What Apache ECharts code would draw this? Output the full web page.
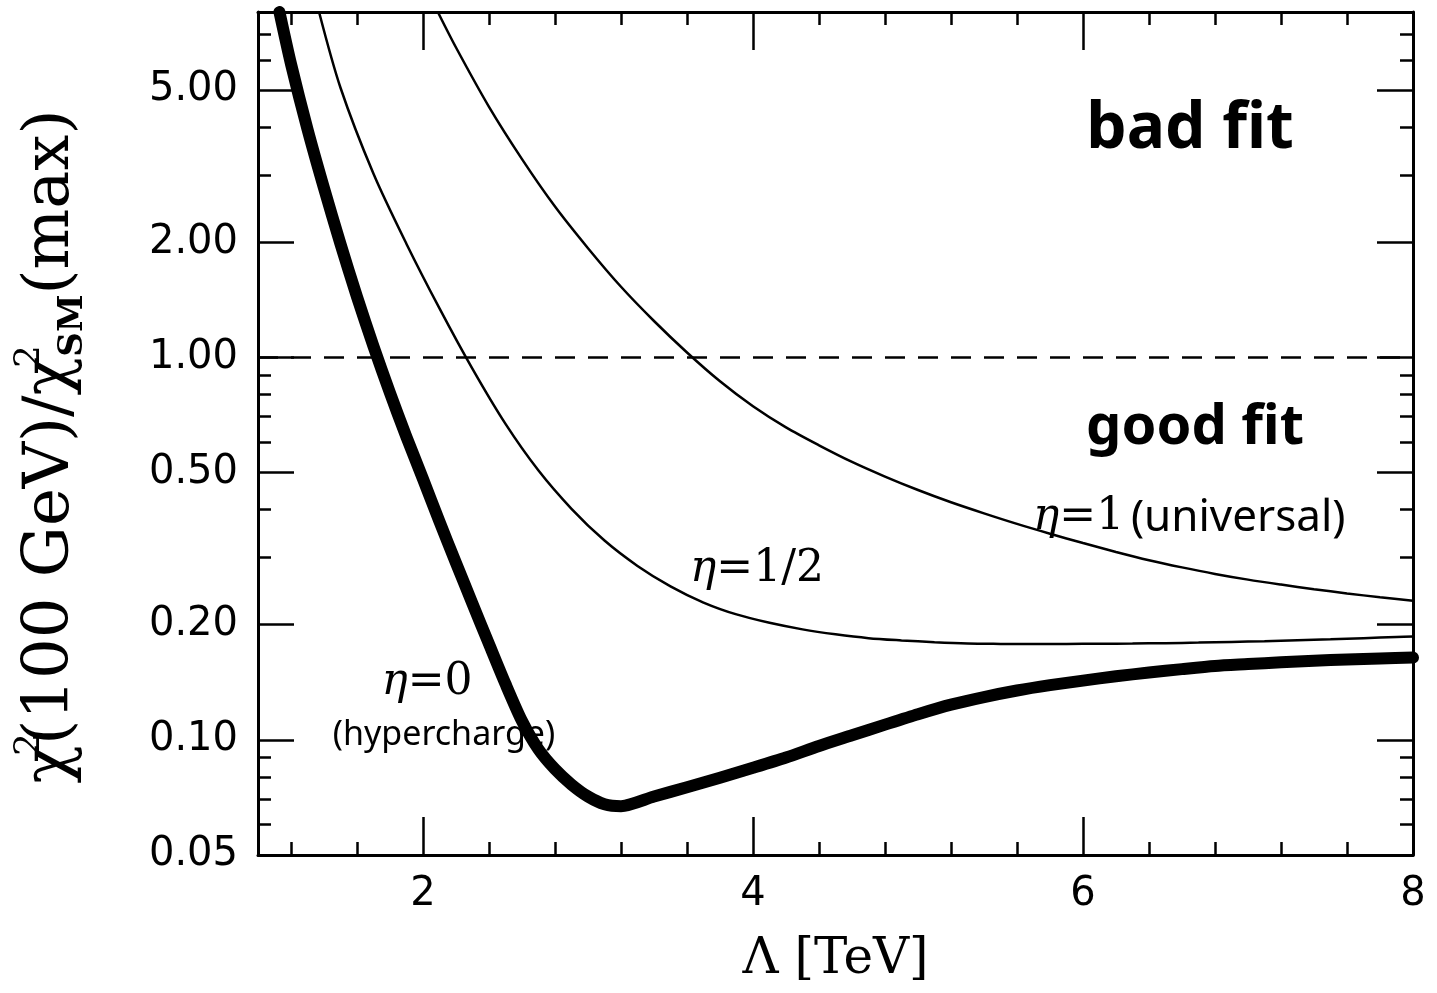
<!DOCTYPE html>
<html>
<head>
<meta charset="utf-8">
<script src="https://cdn.jsdelivr.net/npm/echarts@6/dist/echarts.min.js"></script>
<style>
  html, body { margin: 0; padding: 0; background: #ffffff; }
  #chart { width: 1437px; height: 993px; }
</style>
</head>
<body>
<div id="chart"></div>
<script>
// Λ in TeV and χ²(100 GeV)/χ²_SM(max) for each coupling η
const lambdaEta0 = [1.13, 1.2, 1.3, 1.4, 1.5, 1.6, 1.7, 1.8, 1.9, 2.0, 2.1, 2.2, 2.3, 2.4, 2.5, 2.6, 2.7, 2.8, 2.9, 3.0, 3.1, 3.2,
                    3.4, 3.6, 3.8, 4.0, 4.2, 4.4, 4.6, 4.8, 5.0, 5.2, 5.4, 5.6, 5.8, 6.0, 6.2, 6.4, 6.6, 6.8, 7.0, 7.2, 7.4, 7.6, 7.8, 8.0];
const chiEta0    = [8.0, 5.85, 3.95, 2.77, 1.98, 1.44, 1.069, 0.807, 0.619, 0.481, 0.372, 0.290, 0.227, 0.178, 0.140, 0.112, 0.0944, 0.0838, 0.0764, 0.0711, 0.0679, 0.0671,
                    0.0711, 0.0752, 0.0796, 0.0845, 0.0899, 0.0964, 0.1028, 0.1096, 0.1167, 0.1236, 0.1294, 0.1346, 0.139, 0.1429, 0.1466, 0.150, 0.1531, 0.156, 0.1578, 0.1596, 0.1611, 0.1622, 0.1633, 0.1641];

const lambdaEtaHalf = [1.37, 1.5, 1.7, 1.9, 2.1, 2.3, 2.5, 2.7, 2.9, 3.1, 3.3, 3.5, 3.7, 3.9, 4.1, 4.3, 4.5, 4.7, 4.9, 5.1, 5.3, 5.5, 5.7, 5.9, 6.1, 6.3, 6.5, 6.7, 6.9, 7.1, 7.3, 7.5, 7.7, 7.9, 8.0];
const chiEtaHalf    = [8.0, 5.07, 3.02, 1.98, 1.343, 0.933, 0.670, 0.506, 0.402, 0.332, 0.285, 0.252, 0.2286, 0.2128, 0.2023, 0.1945, 0.1888, 0.1845, 0.182, 0.180, 0.1786, 0.1782, 0.178, 0.1782, 0.1784, 0.1786, 0.179, 0.1796, 0.1803, 0.1811, 0.1822, 0.1832, 0.1845, 0.1858, 0.1862];

const lambdaEta1 = [2.09, 2.2, 2.4, 2.6, 2.8, 3.0, 3.2, 3.4, 3.6, 3.8, 4.0, 4.2, 4.4, 4.6, 4.8, 5.0, 5.2, 5.4, 5.6, 5.8, 6.0, 6.2, 6.4, 6.6, 6.8, 7.0, 7.2, 7.4, 7.6, 7.8, 8.0];
const chiEta1    = [8.0, 6.46, 4.52, 3.30, 2.48, 1.93, 1.53, 1.245, 1.03, 0.866, 0.745, 0.656, 0.589, 0.533, 0.488, 0.450, 0.418, 0.391, 0.367, 0.346, 0.327, 0.310, 0.295, 0.2825, 0.2716, 0.2624, 0.2547, 0.2477, 0.2415, 0.236, 0.2312];

// boundary between good and bad fits
const fitThreshold = 1.0;

// axis ticks
const xMajorTicks = [2, 4, 6, 8];
const xMinorTicks = [1.2, 1.6, 2.4, 2.8, 3.2, 3.6, 4.4, 4.8, 5.2, 5.6, 6.4, 6.8, 7.2, 7.6];
const yMajorTicks = [0.05, 0.10, 0.20, 0.50, 1.00, 2.00, 5.00];
const yMinorTicks = [0.06, 0.07, 0.08, 0.09, 0.3, 0.4, 0.6, 0.7, 0.8, 0.9, 3, 4, 6, 7];

const X_MIN = 1, X_MAX = 8, Y_MIN = 0.05, Y_MAX = 8;
const INK = '#000000';

const pairs = (xs, ys) => xs.map((x, i) => [x, ys[i]]);

function xAxisDef(position, ticks, major, withLine, withLabels) {
  return {
    type: 'value', position: position, min: X_MIN, max: X_MAX,
    axisLine: { show: withLine, onZero: false, lineStyle: { color: INK, width: 3 } },
    axisTick: { show: true, inside: true, customValues: ticks, length: major ? 38 : 13,
                lineStyle: { color: INK, width: 2.5 } },
    axisLabel: withLabels
      ? { show: true, customValues: ticks, margin: 20, color: INK,
          fontFamily: 'DejaVu Sans', fontSize: 40, formatter: v => String(v) }
      : { show: false },
    splitLine: { show: false }
  };
}

function yAxisDef(position, ticks, major, withLine, withLabels) {
  return {
    type: 'log', logBase: 10, position: position, min: Y_MIN, max: Y_MAX,
    axisLine: { show: withLine, onZero: false, lineStyle: { color: INK, width: 3 } },
    axisTick: { show: true, inside: true, customValues: ticks, length: major ? 36 : 13,
                lineStyle: { color: INK, width: 2.5 } },
    axisLabel: withLabels
      ? { show: true, customValues: ticks, margin: 20, color: INK,
          fontFamily: 'DejaVu Sans', fontSize: 40, formatter: v => Number(v).toFixed(2) }
      : { show: false },
    splitLine: { show: false },
    minorTick: { show: false }
  };
}

const xAxes = [
  xAxisDef('bottom', xMajorTicks, true, true, true),
  xAxisDef('bottom', xMinorTicks, false, false, false),
  xAxisDef('top', xMajorTicks, true, true, false),
  xAxisDef('top', xMinorTicks, false, false, false)
];
Object.assign(xAxes[0], {
  name: 'Λ [TeV]', nameLocation: 'middle', nameGap: 80,
  nameTextStyle: { color: INK, fontFamily: 'DejaVu Serif', fontSize: 50 }
});

const yAxes = [
  yAxisDef('left', yMajorTicks, true, true, true),
  yAxisDef('left', yMinorTicks, false, false, false),
  yAxisDef('right', yMajorTicks, true, true, false),
  yAxisDef('right', yMinorTicks, false, false, false)
];
Object.assign(yAxes[0], {
  name: '{t|χ}{sup|2}{t|(100 GeV)/χ}{sup|2}{sub|SM}{t|(max)}',
  nameLocation: 'middle', nameRotate: 90, nameGap: 168,
  nameTextStyle: {
    color: INK,
    padding: [0, 26, 0, 0],
    rich: {
      t:   { fontFamily: 'DejaVu Serif', fontSize: 64, lineHeight: 78, color: INK },
      sup: { fontFamily: 'DejaVu Serif', fontSize: 36, lineHeight: 38, verticalAlign: 'top', width: 0, color: INK },
      sub: { fontFamily: 'DejaVu Serif', fontSize: 34, lineHeight: 38, verticalAlign: 'bottom', fontWeight: 'bold', color: INK }
    }
  }
});

const chart = echarts.init(document.getElementById('chart'), null, { renderer: 'canvas' });

chart.setOption({
  backgroundColor: '#ffffff',
  animation: false,
  grid: { left: 258, right: 24, top: 12, bottom: 138, containLabel: false },
  xAxis: xAxes,
  yAxis: yAxes,
  series: [
    {
      name: 'η=1', type: 'line', xAxisIndex: 0, yAxisIndex: 0,
      data: pairs(lambdaEta1, chiEta1), showSymbol: false, smooth: 0.3, clip: true,
      lineStyle: { color: INK, width: 2.5 }
    },
    {
      name: 'η=1/2', type: 'line', xAxisIndex: 0, yAxisIndex: 0,
      data: pairs(lambdaEtaHalf, chiEtaHalf), showSymbol: false, smooth: 0.3, clip: true,
      lineStyle: { color: INK, width: 2.5 }
    },
    {
      name: 'η=0', type: 'line', xAxisIndex: 0, yAxisIndex: 0,
      data: pairs(lambdaEta0, chiEta0), showSymbol: false, smooth: 0.25, clip: true,
      lineStyle: { color: INK, width: 12, join: 'round', cap: 'round' },
      markLine: {
        silent: true, symbol: ['none', 'none'], label: { show: false },
        lineStyle: { color: INK, width: 2.5, type: [20, 13] },
        data: [{ yAxis: fitThreshold }]
      }
    }
  ],
  graphic: [
    { type: 'text', x: 1190, y: 130, silent: true,
      style: { text: 'bad fit', font: 'bold 64px "Noto Sans"', fill: INK, align: 'center', verticalAlign: 'middle' } },
    { type: 'text', x: 1195, y: 428, silent: true,
      style: { text: 'good fit', font: 'bold 56px "Noto Sans"', fill: INK, align: 'center', verticalAlign: 'middle' } },
    { type: 'text', x: 1033, y: 518, silent: true,
      style: {
        text: '{e|η}{s|=1}  {h|(universal)}', align: 'left', verticalAlign: 'middle',
        rich: {
          e: { font: 'italic 44px "DejaVu Serif"', fill: INK },
          s: { font: '44px "DejaVu Serif"', fill: INK },
          h: { font: '44px "Noto Sans"', fill: INK }
        }
      } },
    { type: 'text', x: 757, y: 570, silent: true,
      style: {
        text: '{e|η}{s|=1/2}', align: 'center', verticalAlign: 'middle',
        rich: {
          e: { font: 'italic 44px "DejaVu Serif"', fill: INK },
          s: { font: '44px "DejaVu Serif"', fill: INK }
        }
      } },
    { type: 'text', x: 427, y: 683, silent: true,
      style: {
        text: '{e|η}{s|=0}', align: 'center', verticalAlign: 'middle',
        rich: {
          e: { font: 'italic 44px "DejaVu Serif"', fill: INK },
          s: { font: '44px "DejaVu Serif"', fill: INK }
        }
      } },
    { type: 'text', x: 444, y: 735, silent: true,
      style: { text: '(hypercharge)', font: '34px "Noto Sans"', fill: INK, align: 'center', verticalAlign: 'middle' } }
  ]
});
</script>
</body>
</html>
